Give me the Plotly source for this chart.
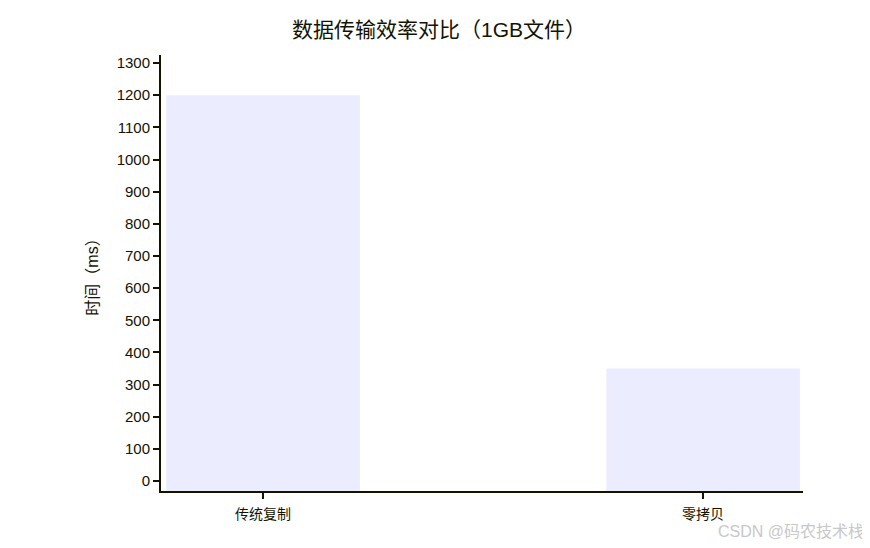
import plotly.graph_objects as go

categories = ["传统复制", "零拷贝"]
times_ms = [1200, 350]
y_ticks = list(range(0, 1301, 100))
Y_MIN, Y_MAX = -31, 1325

FONT = "Liberation Sans, Noto Sans CJK SC, sans-serif"

# bars rise from the bottom of the axis, as in the original chart
fig = go.Figure(
    go.Bar(
        x=categories,
        y=[v - Y_MIN for v in times_ms],
        base=Y_MIN,
        width=0.44,
        marker=dict(color="#ECECFF", line=dict(width=0)),
        customdata=times_ms,
        hovertemplate="%{x}: %{customdata} ms<extra></extra>",
    )
)

fig.update_layout(
    width=862,
    height=540,
    margin=dict(l=153, r=67, t=47, b=57),
    paper_bgcolor="white",
    plot_bgcolor="white",
    showlegend=False,
    font=dict(family=FONT, size=14, color="#131300"),
    title=dict(
        text="数据传输效率对比（1GB文件）",
        x=0.5,
        xanchor="center",
        y=0.96,
        yanchor="middle",
        font=dict(size=21, color="#131300"),
    ),
    annotations=[
        dict(
            text="CSDN @码农技术栈",
            xref="paper", yref="paper",
            x=1.098, y=-0.117,
            xanchor="right", yanchor="bottom",
            showarrow=False,
            font=dict(size=16, color="#c8c8c8"),
        )
    ],
)

fig.update_xaxes(
    type="category",
    range=[-0.232, 1.227],
    showline=True,
    linecolor="#131300",
    linewidth=2,
    ticks="outside",
    ticklen=6,
    tickwidth=2,
    tickcolor="#131300",
    ticklabelstandoff=3,
    showgrid=False,
    zeroline=False,
    tickfont=dict(size=14),
)

fig.update_yaxes(
    range=[Y_MIN, Y_MAX],
    tickvals=y_ticks,
    showline=True,
    linecolor="#131300",
    linewidth=2,
    ticks="outside",
    ticklen=6,
    tickwidth=2,
    tickcolor="#131300",
    showgrid=False,
    zeroline=False,
    tickfont=dict(size=15),
    title=dict(text="时间（ms）", font=dict(size=16), standoff=14),
)

fig.write_html("out.html")
